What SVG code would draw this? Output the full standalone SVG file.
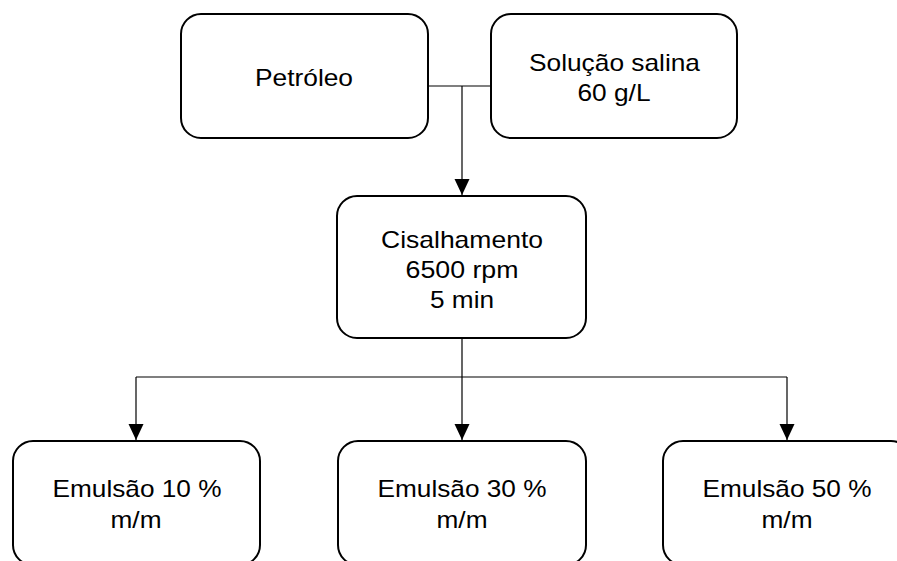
<svg xmlns="http://www.w3.org/2000/svg" width="897" height="561" viewBox="0 0 897 561">
<style>
.box{fill:#fff;stroke:#000;stroke-width:2}
.t{font-family:"Liberation Sans",Arial,sans-serif;font-size:24px;fill:#000;text-anchor:middle}
.c{fill:none;stroke:#000;stroke-width:1.2}
</style>
<defs>
<marker id="ah" markerUnits="userSpaceOnUse" markerWidth="16" markerHeight="16" viewBox="0 0 16 16" refX="16" refY="7.5" orient="auto">
<path d="M0,0 L16,7.5 L0,15 z" fill="#000"/>
</marker>
</defs>
<rect width="897" height="561" fill="#fff"/>
<g id="connectors">
<path class="c" d="M428,86 H491"/>
<path class="c" d="M462,86 V195" marker-end="url(#ah)"/>
<path class="c" d="M462,338 V377 M136,377 H787"/>
<path class="c" d="M136,377 V440" marker-end="url(#ah)"/>
<path class="c" d="M462,377 V440" marker-end="url(#ah)"/>
<path class="c" d="M787,377 V440" marker-end="url(#ah)"/>
</g>
<g id="petroleo">
<rect class="box" x="181" y="14" width="247" height="124" rx="20"/>
<text class="t" x="304" y="86" textLength="98" lengthAdjust="spacingAndGlyphs">Petróleo</text>
</g>
<g id="solucao">
<rect class="box" x="491" y="14" width="246" height="124" rx="20"/>
<text class="t" x="614.5" y="71" textLength="171" lengthAdjust="spacingAndGlyphs">Solução salina</text>
<text class="t" x="614" y="101" textLength="73" lengthAdjust="spacingAndGlyphs">60 g/L</text>
</g>
<g id="cisalhamento">
<rect class="box" x="337" y="196" width="249" height="142" rx="20"/>
<text class="t" x="462" y="248" textLength="162" lengthAdjust="spacingAndGlyphs">Cisalhamento</text>
<text class="t" x="462" y="278" textLength="113" lengthAdjust="spacingAndGlyphs">6500 rpm</text>
<text class="t" x="462" y="308" textLength="64" lengthAdjust="spacingAndGlyphs">5 min</text>
</g>
<g id="emulsao10">
<rect class="box" x="13" y="441" width="247" height="124" rx="20"/>
<text class="t" x="137" y="497" textLength="169" lengthAdjust="spacingAndGlyphs">Emulsão 10 %</text>
<text class="t" x="136" y="528" textLength="51" lengthAdjust="spacingAndGlyphs">m/m</text>
</g>
<g id="emulsao30">
<rect class="box" x="338" y="441" width="248" height="124" rx="20"/>
<text class="t" x="462" y="497" textLength="169" lengthAdjust="spacingAndGlyphs">Emulsão 30 %</text>
<text class="t" x="462" y="528" textLength="51" lengthAdjust="spacingAndGlyphs">m/m</text>
</g>
<g id="emulsao50">
<rect class="box" x="663" y="441" width="248" height="124" rx="20"/>
<text class="t" x="787" y="497" textLength="169" lengthAdjust="spacingAndGlyphs">Emulsão 50 %</text>
<text class="t" x="787" y="528" textLength="51" lengthAdjust="spacingAndGlyphs">m/m</text>
</g>
</svg>
